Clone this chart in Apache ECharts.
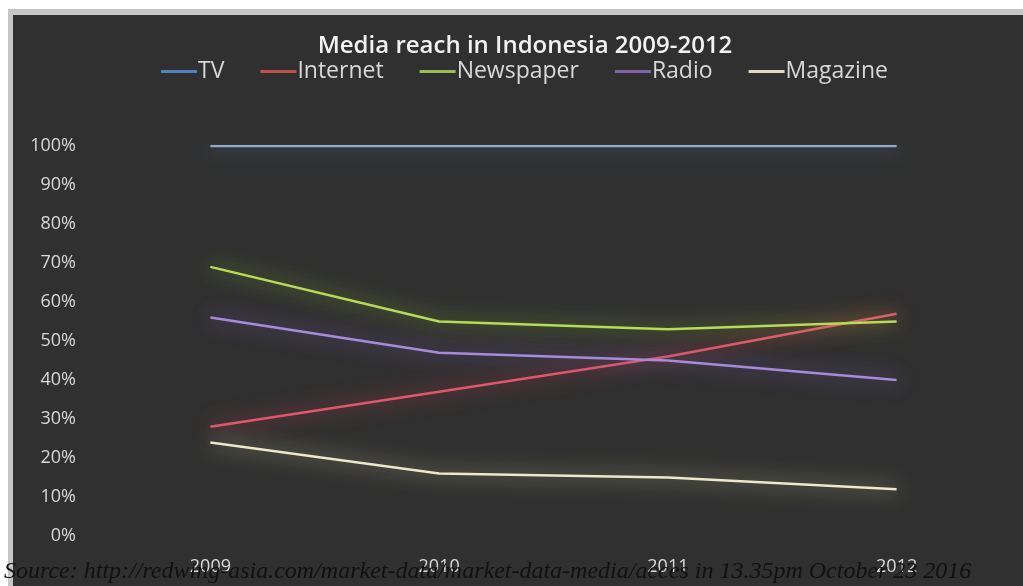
<!DOCTYPE html>
<html>
<head>
<meta charset="utf-8">
<script src="https://cdn.jsdelivr.net/npm/echarts@6/dist/echarts.min.js"></script>
<style>
html,body{margin:0;padding:0;background:#fff;}
#chart{width:1023px;height:586px;}
</style>
</head>
<body>
<div id="chart"></div>
<script>
var years = ['2009', '2010', '2011', '2012'];
var seriesNames = ['TV', 'Internet', 'Newspaper', 'Radio', 'Magazine'];
var tv = [100, 100, 100, 100];
var internet = [28, 37, 46, 57];
var newspaper = [69, 55, 53, 55];
var radio = [56, 47, 45, 40];
var magazine = [24, 16, 15, 12];
var yTicks = [0, 10, 20, 30, 40, 50, 60, 70, 80, 90, 100];
var titleText = 'Media reach in Indonesia 2009-2012';
var sourceText = 'Source: http://redwing-asia.com/market-data/market-data-media/acces in 13.35pm October 23 2016';

var lineColors = ['#8fa9cc', '#e2566a', '#b5dc55', '#a68bd8', '#ece8c8'];
var glowColors = ['#4f81bd', '#e0404d', '#a0d039', '#8a64d2', '#e6e0a3'];
var legendColors = ['#4f81bd', '#c0504d', '#9bbb59', '#8064a2', '#ddd9c3'];
var dataSets = [tv, internet, newspaper, radio, magazine];

var chart = echarts.init(document.getElementById('chart'));
var series = seriesNames.map(function (n, i) {
  return {
    name: n,
    type: 'line',
    data: dataSets[i],
    symbol: 'none',
    showSymbol: false,
    color: legendColors[i],
    lineStyle: {
      width: 2.5,
      color: lineColors[i],
      shadowBlur: 20,
      shadowColor: glowColors[i]
    },
    emphasis: {disabled: true},
    z: 3
  };
});

chart.setOption({
  animation: false,
  backgroundColor: '#ffffff',
  graphic: [
    {type: 'rect', z: -10, shape: {x: 8, y: 9, width: 1015, height: 577}, style: {fill: '#c6c6c6'}, silent: true},
    {type: 'rect', z: -9, shape: {x: 13, y: 15, width: 1010, height: 571}, style: {fill: '#303030'}, silent: true},
    {type: 'text', z: 100, left: 4, top: 560, style: {text: sourceText, font: 'italic 24px "Liberation Serif", serif', fill: '#111111'}}
  ],
  title: {
    text: titleText,
    left: 520,
    textAlign: 'center',
    top: 29,
    textStyle: {color: '#f2f2f2', fontSize: 24, fontWeight: 600, fontFamily: '"Open Sans", sans-serif'}
  },
  legend: {
    data: seriesNames.map(function (n, i) { return {name: n, itemStyle: {color: legendColors[i]}}; }),
    top: 55,
    left: 156,
    icon: 'rect',
    itemWidth: 36,
    itemHeight: 3,
    itemGap: 36,
    textStyle: {color: '#d8d8d8', fontSize: 23, fontFamily: '"Open Sans", sans-serif', padding: [0, 0, 0, -4]}
  },
  grid: {left: 96, right: 12, top: 146, bottom: 50, containLabel: false},
  xAxis: {
    type: 'category',
    data: years,
    boundaryGap: true,
    axisLine: {show: false},
    axisTick: {show: false},
    axisLabel: {color: '#d8d8d8', fontSize: 18, fontFamily: '"Open Sans", sans-serif', margin: 22}
  },
  yAxis: {
    type: 'value',
    min: 0,
    max: 100,
    interval: 10,
    axisLine: {show: false},
    axisTick: {show: false},
    splitLine: {show: false},
    axisLabel: {
      color: '#d8d8d8', fontSize: 18, fontFamily: '"Open Sans", sans-serif', margin: 20,
      formatter: function (v) { return yTicks.indexOf(v) >= 0 ? v + '%' : ''; }
    }
  },
  series: series
});
</script>
</body>
</html>
